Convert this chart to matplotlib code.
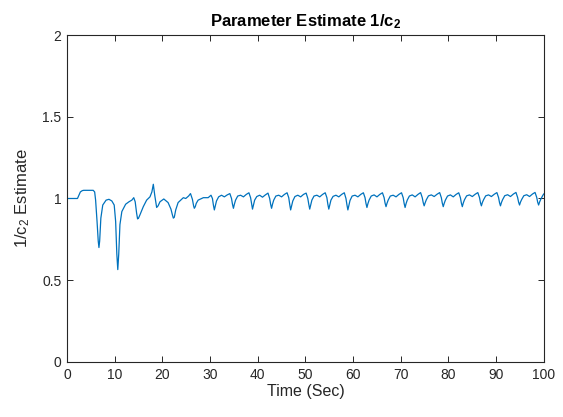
import matplotlib
matplotlib.use("Agg")
import matplotlib.pyplot as plt

plt.rcParams['font.family'] = ['Liberation Sans', 'DejaVu Sans']
plt.rcParams['mathtext.fontset'] = 'custom'
plt.rcParams['mathtext.rm'] = 'Liberation Sans'
plt.rcParams['mathtext.it'] = 'Liberation Sans'
plt.rcParams['mathtext.bf'] = 'Liberation Sans:bold'

title = r"Parameter Estimate 1/c$_\mathbf{2}$"
xlabel = "Time (Sec)"
ylabel = r"1/c$_2$ Estimate"
xticks = [0, 10, 20, 30, 40, 50, 60, 70, 80, 90, 100]
yticks = [0, 0.5, 1, 1.5, 2]
yticklabels = ["0", "0.5", "1", "1.5", "2"]

time_s = [
    0.0, 2.2, 2.5, 2.8, 3.2, 3.5, 5.5, 5.8, 6.0, 6.3, 6.55, 6.7, 6.85, 7.1, 7.5, 8.2, 8.8,
    9.4, 9.9, 10.2, 10.45, 10.65, 10.85, 11.1, 11.5, 12.3, 13.0, 13.6, 14.0, 14.3, 14.6,
    14.8, 15.0, 15.3, 16.0, 16.7, 17.4, 17.8, 18.1, 18.4, 18.8, 19.1, 19.5, 20.3, 21.2,
    21.8, 22.1, 22.3, 22.5, 22.8, 23.3, 24.4, 24.9, 25.5, 25.9, 26.3, 26.55, 26.7, 26.9,
    27.1, 27.5, 28.6, 29.6, 30.2, 30.5, 30.7,
    30.9, 31.1, 31.35, 31.8, 32.4, 33.0, 33.6, 34.15, 34.5, 34.7,
    34.9, 35.1, 35.35, 35.8, 36.4, 37.0, 37.6, 38.15, 38.5, 38.7,
    38.9, 39.1, 39.35, 39.8, 40.4, 41.0, 41.6, 42.15, 42.5, 42.7,
    42.9, 43.1, 43.35, 43.8, 44.4, 45.0, 45.6, 46.15, 46.5, 46.7,
    46.9, 47.1, 47.35, 47.8, 48.4, 49.0, 49.6, 50.15, 50.5, 50.7,
    50.9, 51.1, 51.35, 51.8, 52.4, 53.0, 53.6, 54.15, 54.5, 54.7,
    54.9, 55.1, 55.35, 55.8, 56.4, 57.0, 57.6, 58.15, 58.5, 58.7,
    58.9, 59.1, 59.35, 59.8, 60.4, 61.0, 61.6, 62.15, 62.5, 62.7,
    62.9, 63.1, 63.35, 63.8, 64.4, 65.0, 65.6, 66.15, 66.5, 66.7,
    66.9, 67.1, 67.35, 67.8, 68.4, 69.0, 69.6, 70.15, 70.5, 70.7,
    70.9, 71.1, 71.35, 71.8, 72.4, 73.0, 73.6, 74.15, 74.5, 74.7,
    74.9, 75.1, 75.35, 75.8, 76.4, 77.0, 77.6, 78.15, 78.5, 78.7,
    78.9, 79.1, 79.35, 79.8, 80.4, 81.0, 81.6, 82.15, 82.5, 82.7,
    82.9, 83.1, 83.35, 83.8, 84.4, 85.0, 85.6, 86.15, 86.5, 86.7,
    86.9, 87.1, 87.35, 87.8, 88.4, 89.0, 89.6, 90.15, 90.5, 90.7,
    90.9, 91.1, 91.35, 91.8, 92.4, 93.0, 93.6, 94.15, 94.5, 94.7,
    94.9, 95.1, 95.35, 95.8, 96.4, 97.0, 97.6, 98.15, 98.5, 98.7,
    98.9, 99.1, 99.35, 99.8, 100.0,
]

estimate = [
    1.0, 1.0, 1.02, 1.04, 1.048, 1.05, 1.05, 1.04, 0.99, 0.86, 0.74, 0.70, 0.74, 0.88, 0.96, 0.99, 0.995,
    0.985, 0.96, 0.86, 0.66, 0.565, 0.66, 0.84, 0.92, 0.965, 0.98, 0.99, 1.005, 0.98, 0.91,
    0.875, 0.88, 0.9, 0.95, 0.99, 1.01, 1.04, 1.087, 1.02, 0.945, 0.955, 0.98, 0.997, 0.975,
    0.935, 0.9, 0.88, 0.885, 0.93, 0.975, 1.005, 1.0, 1.015, 1.03, 0.995, 0.955, 0.94, 0.95,
    0.97, 0.99, 1.005, 1.005, 1.02, 1.0, 0.96,
    0.93, 0.955, 0.985, 1.01, 1.02, 1.01, 1.022, 1.03, 1.0, 0.965,
    0.94, 0.965, 0.99, 1.015, 1.02, 1.01, 1.025, 1.035, 1.005, 0.97,
    0.935, 0.96, 0.99, 1.012, 1.02, 1.008, 1.022, 1.033, 1.0, 0.965,
    0.94, 0.965, 0.99, 1.015, 1.02, 1.01, 1.025, 1.035, 1.005, 0.965,
    0.93, 0.955, 0.985, 1.012, 1.02, 1.01, 1.025, 1.033, 1.0, 0.965,
    0.935, 0.96, 0.99, 1.015, 1.02, 1.01, 1.025, 1.035, 1.005, 0.965,
    0.935, 0.96, 0.99, 1.013, 1.02, 1.01, 1.025, 1.035, 1.0, 0.962,
    0.93, 0.957, 0.988, 1.015, 1.02, 1.01, 1.025, 1.035, 1.005, 0.97,
    0.945, 0.968, 0.99, 1.015, 1.022, 1.01, 1.025, 1.035, 1.005, 0.972,
    0.95, 0.97, 0.99, 1.015, 1.02, 1.01, 1.025, 1.035, 1.005, 0.97,
    0.945, 0.968, 0.99, 1.015, 1.022, 1.01, 1.025, 1.036, 1.005, 0.975,
    0.955, 0.973, 0.992, 1.016, 1.022, 1.012, 1.026, 1.036, 1.005, 0.972,
    0.95, 0.97, 0.99, 1.015, 1.022, 1.01, 1.025, 1.035, 1.005, 0.972,
    0.95, 0.972, 0.992, 1.016, 1.022, 1.012, 1.026, 1.036, 1.006, 0.975,
    0.955, 0.975, 0.992, 1.016, 1.022, 1.012, 1.026, 1.036, 1.006, 0.975,
    0.955, 0.975, 0.993, 1.017, 1.023, 1.012, 1.027, 1.037, 1.006, 0.978,
    0.96, 0.978, 0.994, 1.017, 1.023, 1.012, 1.027, 1.037, 1.007, 0.978,
    0.96, 0.978, 0.995, 1.02, 1.028,
]

axis_color = (0.15, 0.15, 0.15)
line_color = (0.0, 0.447, 0.741)

fig = plt.figure(figsize=(5.63, 4.17), dpi=100)
ax = fig.add_axes([0.119, 0.132, 0.847, 0.784])
ax.plot(time_s, estimate, color=line_color, linewidth=0.9, solid_joinstyle='round')

ax.set_xlim(0, 100)
ax.set_ylim(0, 2)
ax.set_xticks(xticks)
ax.set_yticks(yticks)
ax.set_yticklabels(yticklabels)
ax.tick_params(direction='in', length=4, width=0.7, colors=axis_color,
               labelsize=10, top=True, right=True, pad=4)
for s in ax.spines.values():
    s.set_color(axis_color)
    s.set_linewidth(0.8)

ax.set_title(title, fontsize=12, fontweight='bold', color='black', pad=6)
ax.set_xlabel(xlabel, fontsize=11.5, color=axis_color, labelpad=2)
ax.set_ylabel(ylabel, fontsize=12, color=axis_color, labelpad=7)

fig.savefig("out.png", dpi=100)
